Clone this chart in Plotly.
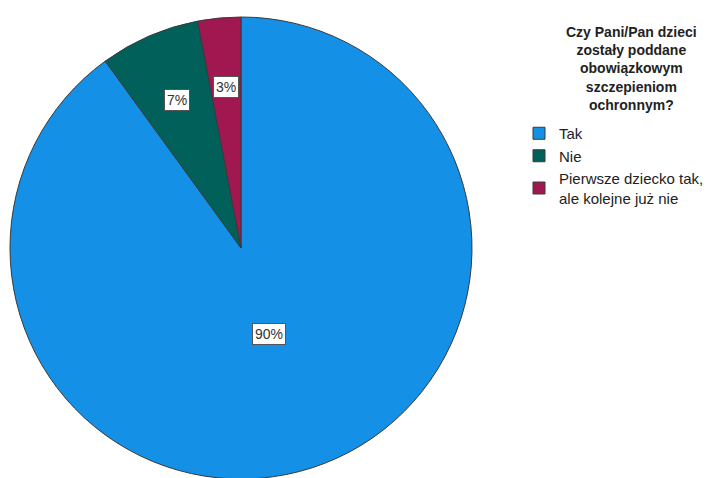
import math
import plotly.graph_objects as go

# ---- data ----
categories = ["Tak", "Nie", "Pierwsze dziecko tak,<br>ale kolejne już nie"]
values = [90, 7, 3]
pct_labels = ["90%", "7%", "3%"]
colors = ["#1490E6", "#02605A", "#A1174F"]
legend_title = "<b>Czy Pani/Pan dzieci<br>zostały poddane<br>obowiązkowym<br>szczepieniom<br>ochronnym?</b>"

W, H = 727, 478
OFF = 8  # page body margin of the browser
FONT = "Liberation Sans, Arial"


def fx(px):  # page pixel -> paper x
    return (px - OFF) / W


def fy(py):  # page pixel -> paper y
    return 1 - (py - OFF) / H


# pie placed so its centre is at page (241, 248) with radius 231
dom_x = [fx(241 - 231), fx(241 + 231)]
dom_y = [fy(248 + 231), fy(248 - 231)]

fig = go.Figure(
    go.Pie(
        labels=categories,
        values=values,
        sort=False,
        direction="clockwise",
        rotation=0,
        textinfo="none",
        hoverinfo="label+percent",
        marker=dict(colors=colors, line=dict(color="#3a3a3a", width=1)),
        domain=dict(x=dom_x, y=dom_y),
    )
)

# label boxes placed from the slice angles computed from the data
R = 231
cx, cy = 241, 248
total = sum(values)
cum = 0
annotations = []
for v, t in zip(values, pct_labels):
    mid = (cum + v / 2) / total * 2 * math.pi
    cum += v
    rf = 0.39 if v / total > 0.5 else 0.7
    px = cx + math.sin(mid) * R * rf
    py = cy - math.cos(mid) * R * rf
    annotations.append(
        dict(
            x=fx(px), y=fy(py), xref="paper", yref="paper",
            xanchor="center", yanchor="middle",
            text=t, showarrow=False,
            font=dict(family=FONT, size=14, color="#333333"),
            bgcolor="white", bordercolor="#555555", borderwidth=1, borderpad=2,
        )
    )

# legend title (centred, bold)
annotations.append(
    dict(
        x=fx(631), y=fy(22), xref="paper", yref="paper",
        xanchor="center", yanchor="top", align="center",
        text=legend_title, showarrow=False,
        font=dict(family=FONT, size=14, color="#222222"),
    )
)

fig.update_layout(
    width=W, height=H,
    margin=dict(l=0, r=0, t=0, b=0),
    paper_bgcolor="white",
    plot_bgcolor="white",
    annotations=annotations,
    showlegend=True,
    legend=dict(
        x=fx(519), y=fy(117), xanchor="left", yanchor="top",
        font=dict(family=FONT, size=15, color="#222222"),
        traceorder="normal",
        bgcolor="rgba(0,0,0,0)",
    ),
)

fig.write_html("out.html")
